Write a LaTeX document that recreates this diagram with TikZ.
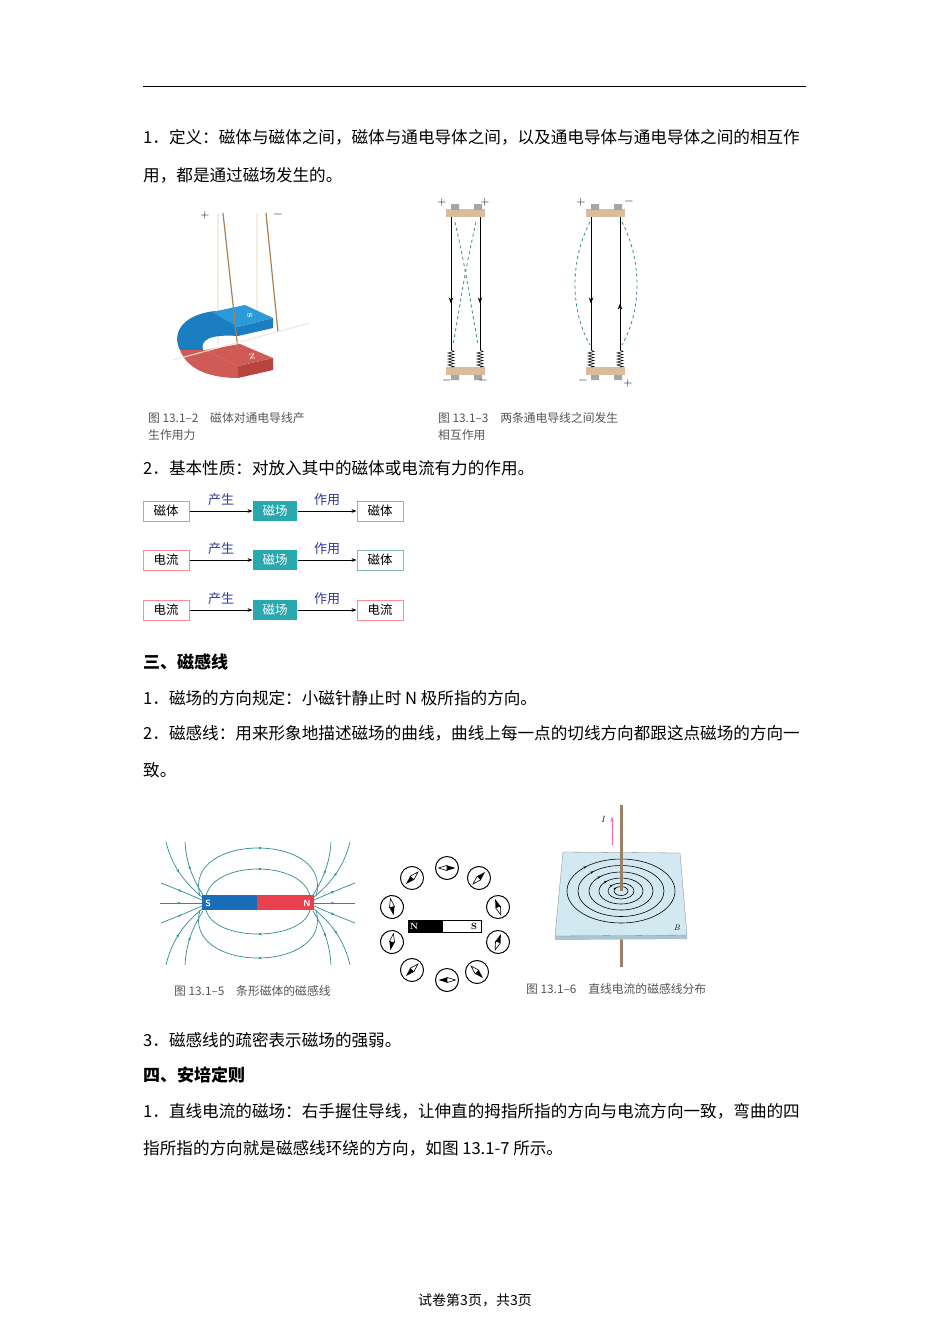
\documentclass[tikz,border=0pt]{standalone}
\usepackage{fontspec}
\newfontfamily\cjk{Noto Sans CJK SC}
\usetikzlibrary{arrows.meta,decorations.markings}
\definecolor{teal1}{HTML}{2AA8B0}
\definecolor{fieldc}{HTML}{2E8C96}
\definecolor{lblue}{HTML}{2F3A9E}
\definecolor{tan1}{HTML}{D8BC9C}
\definecolor{capg}{HTML}{555555}
\definecolor{mblue}{HTML}{1C6DB8}
\definecolor{mred}{HTML}{E8404F}
\definecolor{hblue}{HTML}{2A9AD8}
\definecolor{hblue2}{HTML}{1A7EC0}
\definecolor{hred}{HTML}{D05A55}
\definecolor{hred2}{HTML}{B84440}
\tikzset{
 body/.style={anchor=west,inner sep=0pt,font=\cjk\fontsize{16.6}{16.6}\selectfont},
 head/.style={anchor=west,inner sep=0pt,font=\cjk\bfseries\fontsize{17}{17}\selectfont},
 capt/.style={anchor=west,inner sep=0pt,text=capg,font=\cjk\fontsize{11.8}{11.8}\selectfont},
 bx/.style={draw,line width=1pt,minimum width=46pt,minimum height=20pt,inner sep=0pt,font=\cjk\fontsize{12.5}{12.5}\selectfont},
 bxm/.style={bx,draw=none,fill=teal1,text=white,minimum width=44pt},
 flab/.style={text=lblue,inner sep=0pt,font=\cjk\fontsize{13}{13}\selectfont},
 farr/.style={-{Stealth[length=5pt]},line width=0.8pt},
 fl/.style={draw=fieldc,line width=0.7pt,postaction={decorate},decoration={markings,mark=at position 0.5 with {\arrow[fieldc]{Stealth[length=3.5pt]}}}},
 pm/.style={inner sep=0pt,font=\fontsize{12}{12}\selectfont},
}
\newcommand\mycompass[3]{\begin{scope}[shift={(#1,#2)},rotate=#3]
 \draw[line width=1pt,fill=white](0,0) circle (11.5);
 \fill (0,-2.6)--(8.5,0)--(0,2.6)--cycle;
 \draw[line width=0.6pt,fill=white](0,-2.6)--(-8.5,0)--(0,2.6)--cycle;
\end{scope}}
\begin{document}
\begin{tikzpicture}[x=1pt,y=-1pt]
\useasboundingbox[fill=white] (0,0) rectangle (950,1344);
\draw[line width=0.8pt] (143,86)--(806,86);
\node[body] (t1) at (143,137) {1．定义：磁体与磁体之间，磁体与通电导体之间，以及通电导体与通电导体之间的相互作};
\node[body] (t2) at (143,175) {用，都是通过磁场发生的。};
% fig 13.1-2
\draw[line width=1.2pt,white!85!brown] (218,213)--(218,345) (257,213)--(257,320);
\fill[hblue2] (215,311) .. controls (180,315) and (172,335) .. (180,350) -- (203,350) .. controls (200,340) and (210,334) .. (238,336) -- (238,327) -- cycle;
\fill[hred] (180,350) .. controls (188,372) and (215,378) .. (238,378) -- (238,366) -- (205,350) -- cycle;
\fill[hred2] (238,366)--(273,358)--(273,370)--(238,378)--cycle;
\fill[hred] (205,350)--(240,344)--(273,358)--(238,366)--cycle;
\fill[hblue2] (238,327)--(273,318)--(273,328)--(238,336)--cycle;
\fill[hblue] (212,312)--(245,305)--(273,318)--(238,327)--cycle;
\draw[line width=1.2pt,brown!70!gray] (223,213)--(238,350) (266,213)--(278,332);
\node[text=white,font=\bfseries\fontsize{7}{7}\selectfont,rotate=-80] at (250,316) {S};
\node[text=white,font=\bfseries\fontsize{7}{7}\selectfont,rotate=-80] at (252,357) {N};
\draw[line width=1pt,white!80!brown] (173,360)--(310,323);
\node[pm] at (205,216) {+};
\node[pm] at (278,216) {−};
\node[capt] at (148,418) {图 13.1–2　磁体对通电导线产};
\node[capt] at (148,435) {生作用力};
% fig 13.1-3
\foreach \xo in {0,140}{
 \begin{scope}[xshift=\xo]
 \fill[tan1] (446,209) rectangle (485,217);
 \fill[tan1] (446,367) rectangle (485,375);
 \fill[gray!70] (451,204) rectangle (459,210) (474,204) rectangle (482,210);
 \fill[gray!70] (451,375) rectangle (459,380) (474,375) rectangle (482,380);
 \foreach \wx in {451,480}{
  \draw[line width=0.5pt] (\wx,350) -- ++(3,1.5) \foreach \k in {1,...,5}{-- ++(-6,1.5) -- ++(6,1.5)} -- (\wx,367);
 }
 \end{scope}}
\draw[line width=0.8pt,postaction={decorate},decoration={markings,mark=at position 0.65 with {\arrow{Stealth[length=6pt]}}}] (451,217)--(451,350);
\draw[line width=0.8pt,postaction={decorate},decoration={markings,mark=at position 0.65 with {\arrow{Stealth[length=6pt]}}}] (480,217)--(480,350);
\draw[dashed,fieldc,line width=0.8pt] (455,222) .. controls (468,280) and (470,300) .. (478,345);
\draw[dashed,fieldc,line width=0.8pt] (476,222) .. controls (463,280) and (461,300) .. (453,345);
\draw[line width=0.8pt,postaction={decorate},decoration={markings,mark=at position 0.65 with {\arrow{Stealth[length=6pt]}}}] (591,217)--(591,350);
\draw[line width=0.8pt,postaction={decorate},decoration={markings,mark=at position 0.35 with {\arrow{Stealth[length=6pt]}}}] (620,350)--(620,217);
\draw[dashed,fieldc,line width=0.8pt] (590,222) .. controls (570,260) and (570,310) .. (590,345);
\draw[dashed,fieldc,line width=0.8pt] (622,222) .. controls (642,260) and (642,310) .. (622,345);
\node[pm] at (442,203) {+}; \node[pm] at (485,203) {+};
\node[pm] at (447,382) {−}; \node[pm] at (483,382) {−};
\node[pm] at (581,203) {+}; \node[pm] at (629,203) {−};
\node[pm] at (583,382) {−}; \node[pm] at (628,384) {+};
\node[capt] at (438,418) {图 13.1–3　两条通电导线之间发生};
\node[capt] at (438,435) {相互作用};
\node[body] (t3) at (143,468) {2．基本性质：对放入其中的磁体或电流有力的作用。};
% flow
\foreach \r/\ya/\la/\lb/\ca/\cb in {1/511/磁体/磁体/fieldc!60/fieldc!60, 2/560/电流/磁体/red!45/fieldc!60, 3/610/电流/电流/red!45/red!45}{
 \node[bx,draw=\ca] (a\r) at (166,\ya) {\la};
 \node[bxm] (m\r) at (275,\ya) {磁场};
 \node[bx,draw=\cb] (b\r) at (380,\ya) {\lb};
 \draw[farr] (a\r) -- (m\r) node[flab,midway,above=5pt] {产生};
 \draw[farr] (m\r) -- (b\r) node[flab,midway,above=5pt] {作用};
}
\node[head] (h3) at (143,662) {三、磁感线};
\node[body] (t4) at (143,698) {1．磁场的方向规定：小磁针静止时 N 极所指的方向。};
\node[body] (t5) at (143,733) {2．磁感线：用来形象地描述磁场的曲线，曲线上每一点的切线方向都跟这点磁场的方向一};
\node[body] (t6) at (143,770) {致。};
% fig 13.1-5
\draw[fl] (310,896) .. controls (302,860) and (214,860) .. (206,896);
\draw[fl] (316,896) .. controls (334,832) and (182,832) .. (200,896);
\draw[fl] (310,910) .. controls (302,942) and (214,942) .. (206,910);
\draw[fl] (316,910) .. controls (334,974) and (182,974) .. (200,910);
\draw[fl] (314,903) -- (355,903);
\draw[fl] (314,900) .. controls (330,893) .. (355,883);
\draw[fl] (314,906) .. controls (330,913) .. (355,923);
\draw[fl] (314,897) .. controls (335,880) and (345,862) .. (350,842);
\draw[fl] (314,909) .. controls (335,926) and (345,944) .. (350,965);
\draw[fl] (313,895) .. controls (326,875) and (330,858) .. (331,842);
\draw[fl] (313,911) .. controls (326,931) and (330,948) .. (331,965);
\draw[fl] (160,903) -- (202,903);
\draw[fl] (161,883) .. controls (186,893) .. (202,900);
\draw[fl] (161,923) .. controls (186,913) .. (202,906);
\draw[fl] (166,842) .. controls (171,862) and (181,880) .. (202,897);
\draw[fl] (166,965) .. controls (171,944) and (181,926) .. (202,909);
\draw[fl] (185,842) .. controls (186,858) and (190,875) .. (203,895);
\draw[fl] (185,965) .. controls (186,948) and (190,931) .. (203,911);
\fill[mblue] (202,895) rectangle (257,910);
\fill[mred] (257,895) rectangle (314,910);
\node[text=white,font=\sffamily\bfseries\fontsize{9}{9}\selectfont] at (208,903) {S};
\node[text=white,font=\sffamily\bfseries\fontsize{9}{9}\selectfont] at (307,903) {N};
\node[capt] at (174,991) {图 13.1–5　条形磁体的磁感线};
% compasses
\draw[line width=0.8pt] (408,920) rectangle (481,932);
\fill (408,920) rectangle (443,932);
\node[text=white,font=\bfseries\fontsize{9}{9}\selectfont] at (414,926) {N};
\node[font=\bfseries\fontsize{9}{9}\selectfont] at (474,926) {S};
\mycompass{447}{868}{0}
\mycompass{479}{878}{45}
\mycompass{498}{907}{110}
\mycompass{498}{942}{70}
\mycompass{477}{972}{-45}
\mycompass{447}{980}{180}
\mycompass{412}{970}{-135}
\mycompass{392}{942}{-100}
\mycompass{392}{907}{-80}
\mycompass{412}{878}{-135}
% fig 13.1-6
\draw[line width=3pt,brown!40!gray] (621,936)--(621,967);
\fill[cyan!35!gray!60] (555,936)--(687,935)--(687,939)--(555,940)--cycle;
\fill[cyan!15!white!90!gray] (563,852)--(680,853)--(687,935)--(555,936)--cycle;
\draw[line width=0.3pt,gray] (563,852)--(680,853)--(687,935)--(555,936)--cycle;
\foreach \rx/\ry in {54/32,43/25.5,32/19,22/13,13/8,7/4.5}{
 \draw[line width=0.6pt,postaction={decorate},decoration={markings,mark=at position 0.62 with {\arrow{Stealth[length=3pt]}}}] (621,891) ellipse ({\rx} and {\ry});
}
\draw[line width=3pt,brown!40!gray] (621,805)--(621,891);
\draw[-{Stealth[length=5pt]},line width=1pt,magenta!60] (612,845)--(612,817);
\node[font=\itshape\fontsize{9}{9}\selectfont] at (603,819) {\textit{I}};
\node[font=\itshape\fontsize{8}{8}\selectfont] at (677,928) {B};
\node[capt] at (526,989) {图 13.1–6　直线电流的磁感线分布};
\node[body] (t7) at (143,1040) {3．磁感线的疏密表示磁场的强弱。};
\node[head] (h4) at (143,1075) {四、安培定则};
\node[body] (t8) at (143,1111) {1．直线电流的磁场：右手握住导线，让伸直的拇指所指的方向与电流方向一致，弯曲的四};
\node[body] (t9) at (143,1148) {指所指的方向就是磁感线环绕的方向，如图 13.1-7 所示。};
\node[inner sep=0pt,font=\cjk\fontsize{14}{14}\selectfont] (ft) at (475,1300) {试卷第3页，共3页};
\end{tikzpicture}
\end{document}
